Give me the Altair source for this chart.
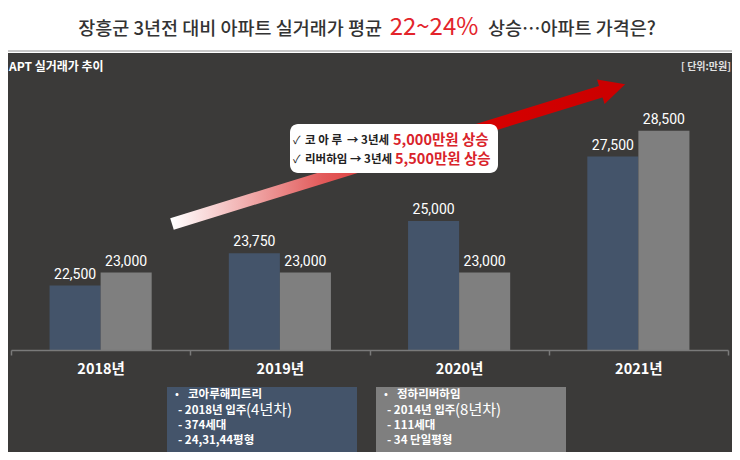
import altair as alt
import pandas as pd

# ---- data ----
years = ["2018년", "2019년", "2020년", "2021년"]
series = ["코아루해피트리", "정하리버하임"]
koaru = [22500, 23750, 25000, 27500]
riverhaim = [23000, 23000, 23000, 28500]

title_a = "장흥군 3년전 대비 아파트 실거래가 평균 "
title_b = "22~24%"
title_c = " 상승…아파트 가격은?"
header_left = "APT 실거래가 추이"
header_right = "[ 단위:만원]"
call1 = ["✓", "코 아 루", "→ 3년세", "5,000만원 상승"]
call2 = ["✓", "리버하임", "→ 3년세", "5,500만원 상승"]
box1 = ["•", "코아루해피트리", "- 2018년 입주", "(4년차)", "- 374세대", "- 24,31,44평형"]
box2 = ["•", "정하리버하임", "- 2014년 입주", "(8년차)", "- 111세대", "- 34 단일평형"]

FONT = "Noto Sans CJK KR"
BG = "#3b3a39"
BLUE = "#44546a"
GRAY = "#7f7f7f"
RED = "#d9232b"

rows = []
for i, y in enumerate(years):
    rows.append({"year": y, "series": series[0], "value": koaru[i]})
    rows.append({"year": y, "series": series[1], "value": riverhaim[i]})
df = pd.DataFrame(rows)
one = pd.DataFrame({"k": [0]})


def txt(s, x, y, size, color, weight="normal", align="left", baseline="middle", font=FONT):
    return alt.Chart(one).mark_text(
        text=s, align=align, baseline=baseline, fontSize=size, color=color,
        fontWeight=weight, font=font
    ).encode(x=alt.value(x), y=alt.value(y))


def rect(x, x2, y, y2, color, radius=0):
    return alt.Chart(one).mark_rect(color=color, cornerRadius=radius).encode(
        x=alt.value(x), x2=alt.value(x2), y=alt.value(y), y2=alt.value(y2)
    )


layers = []
# dark panel + separator
layers.append(rect(-3, 721, -39, 360, BG))
layers.append(rect(-3, 721, -42, -40, "#c8c8c8"))

# title
layers.append(txt(title_a, 371, -57, 18.5, "#333333", weight=500, align="right", baseline="alphabetic"))
layers.append(txt(title_b, 423, -57, 24, "#e3242b", align="center", baseline="alphabetic"))
layers.append(txt(title_c, 477, -57, 18.5, "#333333", weight=500, align="left", baseline="alphabetic"))

# header
layers.append(txt(header_left, -2, -25, 12, "white", weight="bold"))
layers.append(txt(header_right, 720, -25, 10, "#e0e0e0", weight="bold", align="right"))

base = alt.Chart(df).encode(
    x=alt.X("year:N", sort=years,
            scale=alt.Scale(paddingInner=0, paddingOuter=0),
            axis=alt.Axis(title=None, labelColor="white", labelFontSize=14.5, labelFont=FONT,
                          labelFontWeight="bold",
                          labelAngle=0, labelPadding=7, domainColor="#7a7a7a", domainWidth=1.5,
                          tickColor="#7a7a7a", tickSize=5, tickWidth=1.5, tickBand="extent",
                          grid=False, zindex=1)),
    xOffset=alt.XOffset("series:N", sort=series,
                        scale=alt.Scale(domain=series, paddingInner=0, paddingOuter=0.755)),
)

bars = base.mark_bar().encode(
    y=alt.Y("value:Q", scale=alt.Scale(domain=[20000, 30000], zero=False), axis=None),
    y2=alt.datum(20000),
    color=alt.Color("series:N", scale=alt.Scale(domain=series, range=[BLUE, GRAY]), legend=None),
)
labels = base.mark_text(baseline="bottom", dy=-4, fontSize=14, color="white", font="Roboto").encode(
    y=alt.Y("value:Q"),
    text=alt.Text("value:Q", format=","),
)
layers.append(bars)
layers.append(labels)

# arrow
grad = alt.Gradient(
    gradient="linear",
    stops=[alt.GradientStop(color="#ffffff", offset=0),
           alt.GradientStop(color="#e25a5a", offset=0.35),
           alt.GradientStop(color="#d60000", offset=0.7),
           alt.GradientStop(color="#cc0000", offset=1)],
    x1=0, x2=1, y1=0, y2=0,
)
layers.append(alt.Chart(one).mark_rule(color=grad, strokeWidth=12, strokeCap="butt").encode(
    x=alt.value(161), y=alt.value(132), x2=alt.value(592), y2=alt.value(-1)))
layers.append(alt.Chart(one).mark_point(
    shape="M1,0L-1,-1L-1,1Z", filled=True, color="#cc0000", opacity=1, size=650, angle=342.8
).encode(x=alt.value(602), y=alt.value(-4)))

# callout box
layers.append(rect(279, 487, 32, 81, "white", radius=8))
xs1 = [282, 294, 336, 382]
xs2 = [282, 294, 339, 384]
for line, xs, yy in [(call1, xs1, 49), (call2, xs2, 68)]:
    layers.append(txt(line[0], xs[0], yy, 11, "#222222"))
    layers.append(txt(line[1], xs[1], yy, 11.5, "#222222", weight="bold"))
    layers.append(txt(line[2], xs[2], yy, 11.5, "#222222", weight="bold"))
    layers.append(txt(line[3], xs[3], yy, 14.5, RED, weight="bold"))

# bottom info boxes
for box, color, x0, x1 in [(box1, BLUE, 156, 346), (box2, GRAY, 365, 555)]:
    layers.append(rect(x0, x1, 295, 361, color))
    layers.append(txt(box[0], x0 + 8, 303, 11.5, "white"))
    layers.append(txt(box[1], x0 + 21, 303, 11.5, "white", weight="bold"))
    layers.append(txt(box[2], x0 + 11, 319, 11.5, "white", weight="bold"))
    layers.append(txt(box[3], x0 + 79, 318, 15, "white"))
    layers.append(txt(box[4], x0 + 11, 334, 11.5, "white", weight="bold"))
    layers.append(txt(box[5], x0 + 11, 349, 11.5, "white", weight="bold"))

chart = alt.layer(*layers).properties(
    width=717, height=258,
    padding={"left": 3, "top": 84, "right": 4, "bottom": 102},
    autosize=alt.AutoSizeParams(type="none"),
    background="white",
).configure_view(strokeWidth=0)

chart.save("out.html", embed_options={"renderer": "svg", "actions": False})
